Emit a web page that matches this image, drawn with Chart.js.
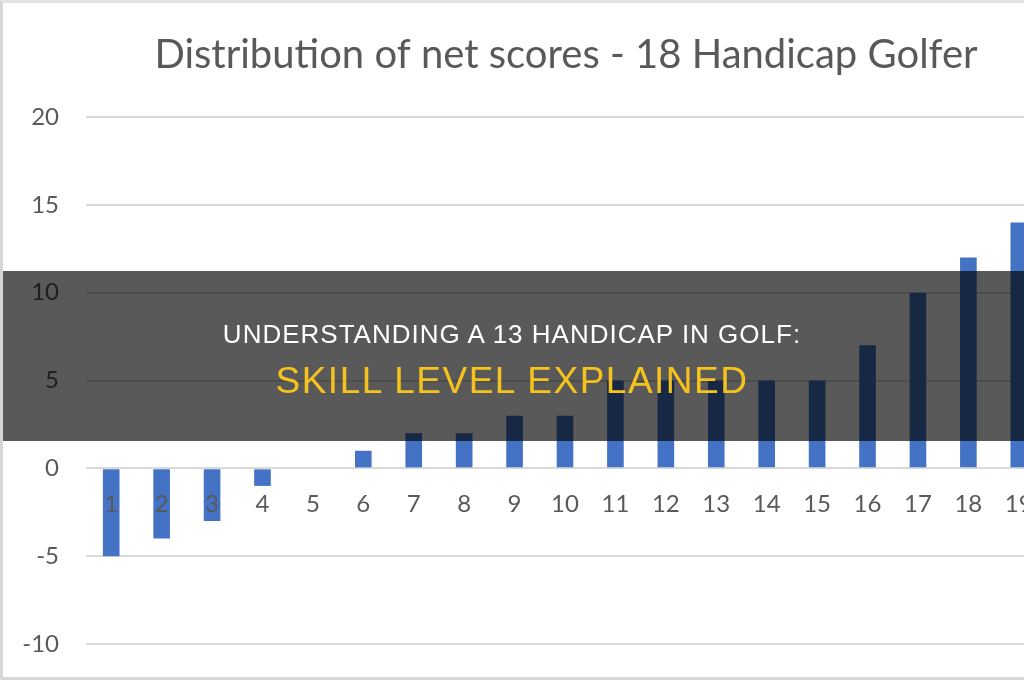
<!DOCTYPE html>
<html>
<head>
<meta charset="utf-8">
<script src="https://cdn.jsdelivr.net/npm/chart.js@4/dist/chart.umd.min.js"></script>
<style>
  html, body { margin: 0; padding: 0; background: #fff; }
  body { width: 1024px; height: 680px; overflow: hidden; position: relative; }
  .frame {
    position: absolute; left: 0; top: 0; width: 1024px; height: 680px;
    box-sizing: border-box;
    border-left: 3px solid #d6d6d6; border-top: 3px solid #e2e2e2; border-bottom: 3px solid #d6d6d6;
    pointer-events: none; z-index: 3;
  }
  .chart-box { position: absolute; left: 0; top: 0; width: 1132px; height: 680px; }
  .banner {
    position: absolute; left: 0; top: 271px; width: 1024px; height: 170px;
    background: rgba(0, 0, 0, 0.65); z-index: 2;
    font-family: "Liberation Sans Narrow", "Arial Narrow", "Liberation Sans", sans-serif;
    text-align: center;
  }
  .banner .l1 {
    position: absolute; left: 0; right: 0; top: 48px;
    color: #ffffff; font-size: 26px; line-height: 30px; letter-spacing: 1px;
  }
  .banner .l2 {
    position: absolute; left: 0; right: 0; top: 89px;
    color: #f6c21c; font-size: 37px; line-height: 42px; letter-spacing: 1.5px;
  }
</style>
</head>
<body>
<div class="chart-box"><canvas id="chart" width="1132" height="680"></canvas></div>
<div class="banner">
  <div class="l1">UNDERSTANDING A 13 HANDICAP IN GOLF:</div>
  <div class="l2">SKILL LEVEL EXPLAINED</div>
</div>
<div class="frame"></div>
<script>
const chartTitle = 'Distribution of net scores - 18 Handicap Golfer';
const categories = ['1', '2', '3', '4', '5', '6', '7', '8', '9', '10',
                    '11', '12', '13', '14', '15', '16', '17', '18', '19'];
const netScoreCounts = [-5, -4, -3, -1, 0, 1, 2, 2, 3, 3, 5, 5, 5, 5, 5, 7, 10, 12, 14];
const yMin = -10;
const yMax = 20;
const yStep = 5;

const gray = '#595959';
const gridColor = '#d9d9d9';
const barBlue = '#4472c4';

// fixed axis widths, no extra label padding above/below the plot
function fixWidth(w) {
    return s => {
        s.width = w;
        s.paddingTop = 0;
        s.paddingBottom = 0;
    };
}

const ctx = document.getElementById('chart').getContext('2d');
new Chart(ctx, {
    type: 'bar',
    data: {
        labels: categories,
        datasets: [{
            data: netScoreCounts,
            backgroundColor: barBlue,
            borderWidth: 0,
            barPercentage: 0.33,
            categoryPercentage: 1
        }]
    },
    options: {
        responsive: false,
        animation: false,
        layout: { padding: { left: 0, right: 0, top: 0, bottom: 36 } },
        plugins: {
            legend: { display: false },
            tooltip: { enabled: false },
            title: {
                display: true,
                text: chartTitle,
                color: gray,
                font: { family: 'Lato', size: 40, weight: 'normal' },
                padding: { top: 31, bottom: 38 }
            }
        },
        scales: {
            x: {
                position: { y: 0 },
                grid: { display: false },
                border: { display: false },
                ticks: {
                    color: gray,
                    font: { family: 'Lato', size: 24 },
                    padding: 14,
                    maxRotation: 0,
                    autoSkip: false,
                    z: 1
                },
                afterFit: s => { s.height = 0; }
            },
            y: {
                min: yMin,
                max: yMax,
                grid: { color: gridColor, lineWidth: 2, drawTicks: false },
                border: { display: false },
                ticks: {
                    stepSize: yStep,
                    color: gray,
                    font: { family: 'Lato', size: 24 },
                    padding: 27
                },
                afterFit: fixWidth(86)
            },
            // empty right-hand axis: keeps the plot where the original sits
            yRight: {
                type: 'linear',
                position: 'right',
                grid: { display: false, drawTicks: false },
                border: { display: false },
                ticks: { display: false },
                afterFit: fixWidth(88)
            }
        }
    }
});
</script>
</body>
</html>
